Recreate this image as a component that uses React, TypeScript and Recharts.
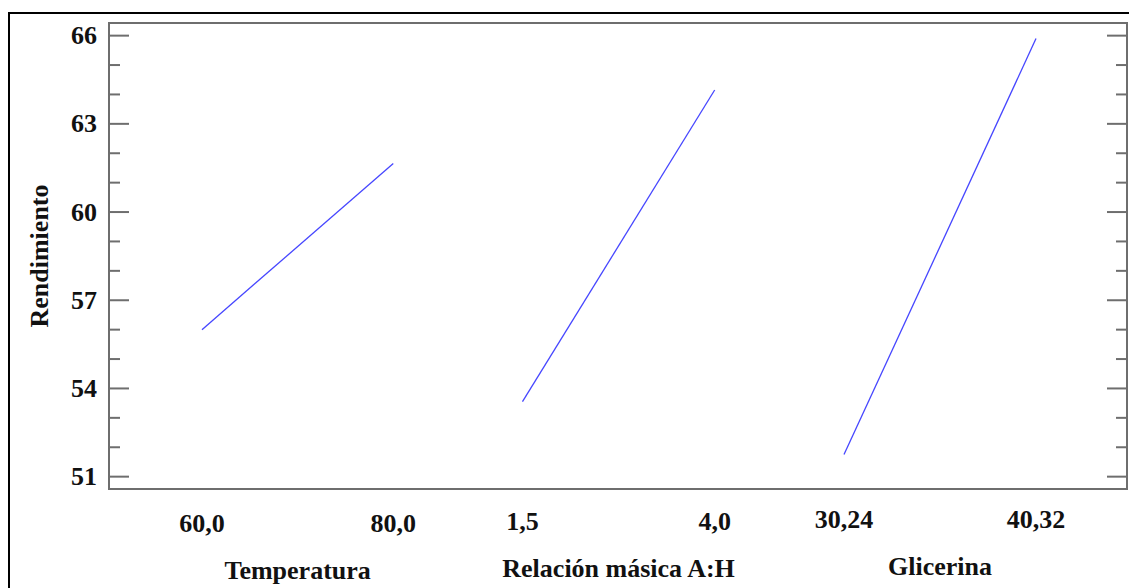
import React from 'react';
import { LineChart, Line, XAxis, YAxis, ReferenceArea } from 'recharts';

// ---------- data ----------
const yTickValues = [51, 52, 53, 54, 55, 56, 57, 58, 59, 60, 61, 62, 63, 64, 65, 66];
const yMajorTicks = [51, 54, 57, 60, 63, 66];

const temperaturaLevels = [60, 80];
const temperaturaValues = [56.0, 61.65];
const temperaturaLabels = ['60,0', '80,0'];

const relacionLevels = [1.5, 4.0];
const relacionValues = [53.55, 64.15];
const relacionLabels = ['1,5', '4,0'];

const glicerinaLevels = [30.24, 40.32];
const glicerinaValues = [51.75, 65.9];
const glicerinaLabels = ['30,24', '40,32'];

const factorTitles = ['Temperatura', 'Relación másica A:H', 'Glicerina'];
const yTitle = 'Rendimiento';

// ---------- layout / style ----------
const CHART_W = 1127;
const CHART_H = 574;
const FRAME = '#6e6e6e';
const LINE = '#4646ff';
const FONT = "'Liberation Serif', 'Times New Roman', serif";
const FS = 26;

const yDomain: [number, number] = [50.58, 66.43];
const tempDomain: [number, number] = [50.28, 156.71];
const relDomain: [number, number] = [-3.878, 9.363];
const gliDomain: [number, number] = [-8.347, 45.097];

const toPoints = (xs: number[], ys: number[]) => xs.map((x, i) => ({ x, y: ys[i] }));
const temperaturaData = toPoints(temperaturaLevels, temperaturaValues);
const relacionData = toPoints(relacionLevels, relacionValues);
const glicerinaData = toPoints(glicerinaLevels, glicerinaValues);

const mid = (a: number[]) => (a[0] + a[1]) / 2;

const makeXTick = (levels: number[], labels: string[], title: string, shift: number) => (props: any) => {
  const { x, y, payload } = props;
  const base = y - shift;
  const idx = levels.indexOf(payload.value);
  if (idx >= 0) {
    return (
      <text x={x} y={base + 41} textAnchor="middle" fontFamily={FONT} fontWeight="bold" fontSize={FS} fill="#111">
        {labels[idx]}
      </text>
    );
  }
  return (
    <text x={x} y={base + 88} textAnchor="middle" fontFamily={FONT} fontWeight="bold" fontSize={FS} fill="#111">
      {title}
    </text>
  );
};

const LeftYTick = (props: any) => {
  const { x, y, payload } = props;
  const major = yMajorTicks.includes(payload.value);
  return (
    <g>
      <line x1={x} x2={x + (major ? 20 : 11)} y1={y} y2={y} stroke={FRAME} strokeWidth={2} />
      {major && (
        <text x={x - 12} y={y} dy={8.5} textAnchor="end" fontFamily={FONT} fontWeight="bold" fontSize={FS} fill="#111">
          {payload.value}
        </text>
      )}
    </g>
  );
};

const RightYTick = (props: any) => {
  const { x, y, payload } = props;
  const major = yMajorTicks.includes(payload.value);
  return <line x1={x - (major ? 20 : 11)} x2={x} y1={y} y2={y} stroke={FRAME} strokeWidth={2} />;
};

const YTitle = (props: any) => {
  const vb = props.viewBox || { x: 0, y: 0, width: 0, height: 0 };
  const cx = vb.x - 1;
  const cy = vb.y + vb.height / 2;
  return (
    <text
      x={cx}
      y={cy}
      transform={`rotate(-90, ${cx}, ${cy})`}
      textAnchor="middle"
      fontFamily={FONT}
      fontWeight="bold"
      fontSize={FS}
      fill="#111"
    >
      {yTitle}
    </text>
  );
};

export default function App() {
  return (
    <div style={{ paddingLeft: 0, paddingTop: 4 }}>
      <style>{'html,body{overflow:hidden}'}</style>
      <div style={{ borderTop: '2px solid #000', borderLeft: '2px solid #000', width: CHART_W, height: CHART_H }}>
        <LineChart width={CHART_W} height={CHART_H} margin={{ top: 9, right: 9, bottom: 96, left: 39 }}>
          <XAxis
            xAxisId="t"
            type="number"
            dataKey="x"
            domain={tempDomain}
            allowDataOverflow
            ticks={[temperaturaLevels[0], mid(temperaturaLevels), temperaturaLevels[1]]}
            interval={0}
            height={1}
            tickSize={0}
            tickMargin={0}
            axisLine={false}
            tickLine={false}
            tick={makeXTick(temperaturaLevels, temperaturaLabels, factorTitles[0], 0)}
          />
          <XAxis
            xAxisId="r"
            type="number"
            dataKey="x"
            domain={relDomain}
            allowDataOverflow
            ticks={[relacionLevels[0], mid(relacionLevels), relacionLevels[1]]}
            interval={0}
            height={1}
            tickSize={0}
            tickMargin={0}
            axisLine={false}
            tickLine={false}
            tick={makeXTick(relacionLevels, relacionLabels, factorTitles[1], 1)}
          />
          <XAxis
            xAxisId="g"
            type="number"
            dataKey="x"
            domain={gliDomain}
            allowDataOverflow
            ticks={[glicerinaLevels[0], mid(glicerinaLevels), glicerinaLevels[1]]}
            interval={0}
            height={1}
            tickSize={0}
            tickMargin={0}
            axisLine={false}
            tickLine={false}
            tick={makeXTick(glicerinaLevels, glicerinaLabels, factorTitles[2], 2)}
          />
          <YAxis
            yAxisId="left"
            type="number"
            domain={yDomain}
            allowDataOverflow
            ticks={yTickValues}
            interval={0}
            width={60}
            tickSize={0}
            tickMargin={0}
            axisLine={false}
            tickLine={false}
            tick={LeftYTick}
            label={{ content: YTitle }}
          />
          <YAxis
            yAxisId="right"
            orientation="right"
            type="number"
            domain={yDomain}
            allowDataOverflow
            ticks={yTickValues}
            interval={0}
            width={1}
            tickSize={0}
            tickMargin={0}
            axisLine={{ stroke: FRAME, strokeWidth: 2 }}
            tickLine={false}
            tick={RightYTick}
          />
          <ReferenceArea
            xAxisId="t"
            yAxisId="left"
            x1={tempDomain[0]}
            x2={tempDomain[1]}
            y1={yDomain[0]}
            y2={yDomain[1]}
            fill="none"
            fillOpacity={0}
            stroke={FRAME}
            strokeWidth={2}
            ifOverflow="visible"
          />
          <Line xAxisId="t" yAxisId="left" data={temperaturaData} dataKey="y" stroke={LINE} strokeWidth={1.3} dot={false} isAnimationActive={false} />
          <Line xAxisId="r" yAxisId="left" data={relacionData} dataKey="y" stroke={LINE} strokeWidth={1.3} dot={false} isAnimationActive={false} />
          <Line xAxisId="g" yAxisId="left" data={glicerinaData} dataKey="y" stroke={LINE} strokeWidth={1.3} dot={false} isAnimationActive={false} />
        </LineChart>
      </div>
    </div>
  );
}
